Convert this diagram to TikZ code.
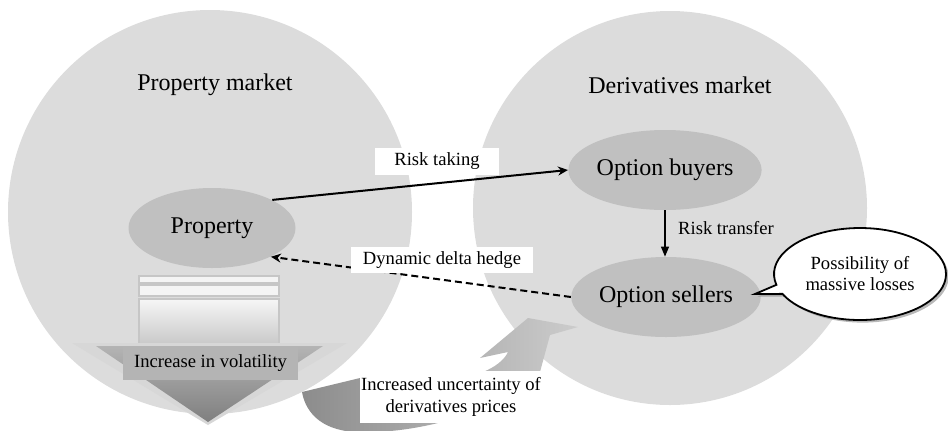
\documentclass[tikz,border=0pt]{standalone}
\usepackage{fontspec}
\setmainfont{Liberation Serif}
\usetikzlibrary{arrows.meta, positioning, calc, shapes.geometric, shapes.callouts, shadows}
\definecolor{mktgray}{HTML}{DCDCDC}
\definecolor{partygray}{HTML}{C0C0C0}
\definecolor{stripgray}{HTML}{C6C6C6}
\definecolor{volgray}{HTML}{B4B4B4}
\tikzset{
  market/.style={font=\fontsize{12}{14}\selectfont},
  party/.style={ellipse, fill=partygray, minimum width=83.5pt, minimum height=40pt, inner sep=0pt, font=\fontsize{12}{14}\selectfont},
  tag/.style={fill=white, inner ysep=0pt, minimum height=13.5pt, align=center, font=\fontsize{9.3}{11}\selectfont},
  note/.style={font=\fontsize{9.3}{11}\selectfont},
  arr/.style={-{Stealth[length=5pt, width=4.5pt]}, line width=1pt},
  thinarr/.style={-{Triangle[length=5pt, width=4pt]}, line width=0.6pt},
  hedgearr/.style={-{Stealth[length=5pt, width=4.5pt]}, line width=1pt, dash pattern=on 3.5pt off 2pt},
  bubble/.style={ellipse callout, draw=black, line width=0.9pt, fill=white, minimum width=86pt, minimum height=46pt,
    inner sep=0pt, align=center, callout pointer arc=12, font=\fontsize{9.3}{10.5}\selectfont,
    drop shadow={shadow xshift=1.3pt, shadow yshift=-1.3pt, fill=black!55}},
}
\begin{document}
\begin{tikzpicture}[x=0.5pt, y=-0.5pt]
    \useasboundingbox (0,0) rectangle (948,430);
    % the two markets
    \fill[mktgray] (210,212) circle[radius=101pt];
    \fill[mktgray] (670,208) circle[radius=98.5pt];
    \node[market] (propmkt) at (215,85) {Property market};
    \node[market] (derivmkt) at (680,85) {Derivatives market};

    % down arrow: increase in volatility
    \fill[white!80!stripgray] (139,276) rectangle (279,283);
    \draw[stripgray, line width=0.8pt] (139,276) rectangle (279,283);
    \fill[white!80!stripgray] (139,285) rectangle (279,296);
    \draw[stripgray, line width=0.8pt] (139,285) rectangle (279,296);
    \shade[top color=white!85!stripgray, bottom color=stripgray] (139,299) rectangle (279,347);
    \draw[stripgray, line width=0.8pt] (139,347) -- (139,299) -- (279,299) -- (279,347);
    \fill[white!30!stripgray] (72,343) -- (347,343) -- (208,425) -- cycle;
    \shade[top color=volgray, bottom color=black!50] (96,346) -- (323,346) -- (208,422) -- cycle;
    \node[note, fill=volgray, minimum width=87.5pt, minimum height=16.5pt, inner sep=0pt] (vol) at (210.5,363.5) {Increase in volatility};

    % curved arrow: uncertainty of derivatives prices
    \shade[left color=black!45, right color=black!20]
      (302,392) .. controls (306,415) and (325,432) .. (360,432)
      .. controls (420,434) and (505,410) .. (540,372)
      -- (550,335) -- (578,327) -- (528,318) -- (480,358) -- (508,352)
      .. controls (495,380) and (420,392) .. (360,378) -- cycle;
    \node[note, fill=white, inner xsep=0.5pt, minimum width=91pt, minimum height=25pt, align=center] (unc) at (451,397)
      {Increased uncertainty of\\derivatives prices};

    % market participants
    \node[party] (prop) at (212,228) {Property};
    \node[party] (buyers) at (665,170) {Option buyers};
    \node[party, minimum width=84pt] (sellers) at (666,297) {Option sellers};

    % flows
    \draw[arr] (prop.25) -- (buyers.west);
    \node[tag, inner xsep=9.5pt] (take) at (437,161) {Risk taking};
    \draw[thinarr] (buyers.south) -- (buyers.south |- sellers.north);
    \node[note] (transfer) at (726,228) {Risk transfer};
    \draw[hedgearr] (sellers.west) -- (prop.-26);
    \node[tag, inner xsep=6pt, minimum height=13pt] (hedge) at (442,260) {Dynamic delta hedge};

    % speech bubble
    \coordinate (losstip) at (755,294);
    \node[bubble, callout absolute pointer=(losstip)] (loss) at (860,274) {Possibility of\\massive losses};
  \end{tikzpicture}
\end{document}
